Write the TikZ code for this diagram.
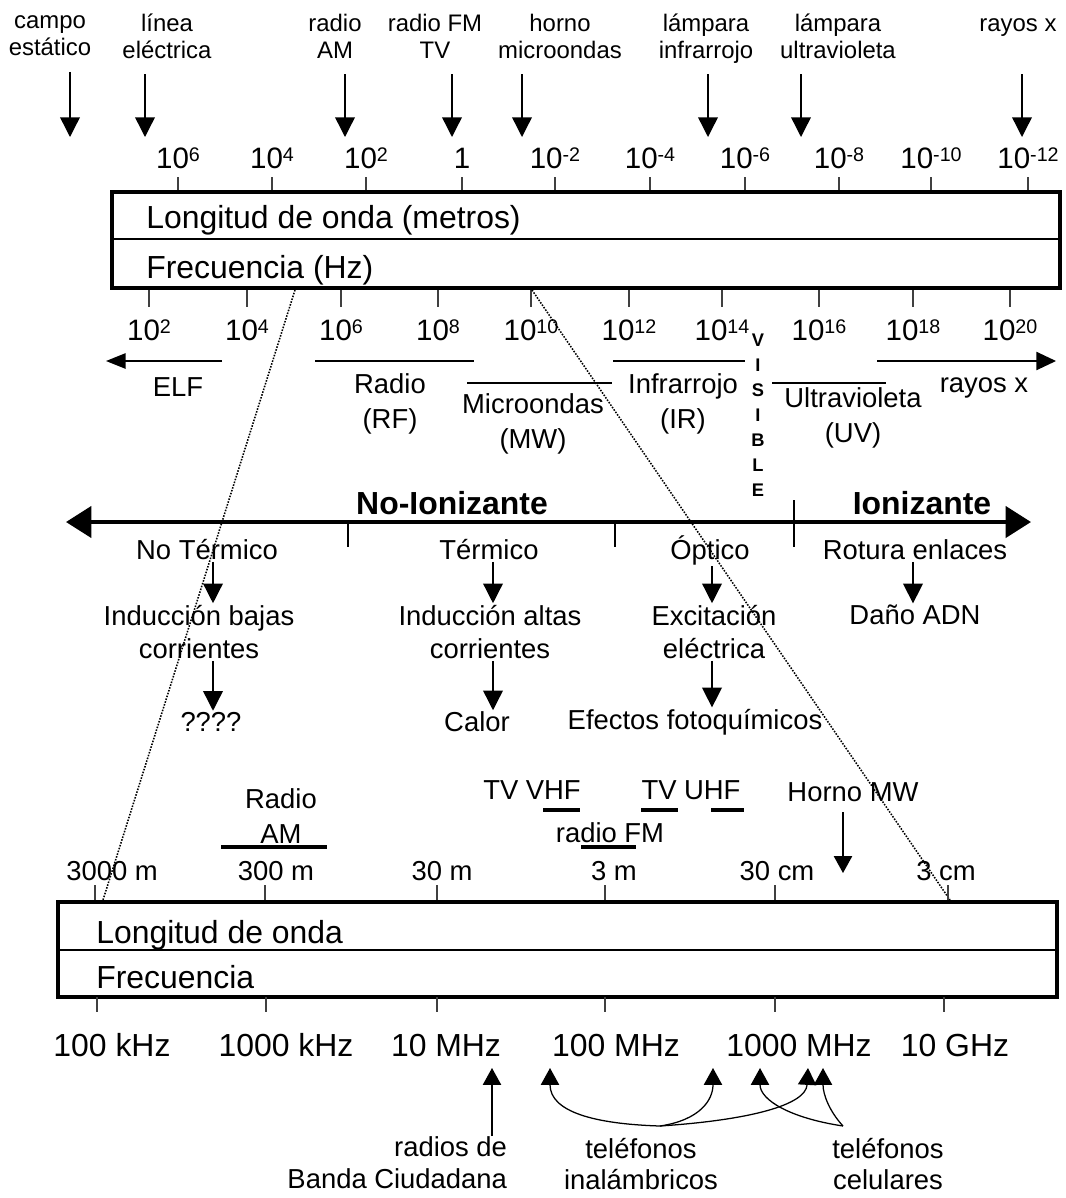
\documentclass[tikz,border=0pt]{standalone}
\usepackage{fontspec}
\setmainfont{Liberation Sans}
\usepackage{tikz}
\usetikzlibrary{arrows.meta}

\newcommand{\pot}[1]{10\raisebox{0.23em}{\fontsize{14}{14}\selectfont#1}}

\begin{document}
\begin{tikzpicture}[x=0.025cm,y=-0.025cm,
  chico/.style={font=\fontsize{17}{19.3}\selectfont,align=center,
    execute at begin node=\strut,execute at end node=\strut},
  medio/.style={font=\fontsize{19.5}{24.5}\selectfont,align=center},
  efecto/.style={font=\fontsize{19.5}{24}\selectfont,align=center,inner sep=1pt},
  grande/.style={font=\fontsize{22.7}{27}\selectfont,inner sep=0pt},
  escala/.style={font=\fontsize{21}{25}\selectfont,anchor=base},
  visible/.style={font=\fontsize{13}{15}\selectfont\bfseries,inner sep=0pt},
  marca/.style={line width=0.9pt,black!75},
  caja/.style={line width=2.2pt},
  banda/.style={line width=1pt},
  barra/.style={line width=3.5pt},
  guia/.style={densely dotted,line width=1.1pt},
  flecha/.style={line width=1pt,-{Triangle[width=14pt,length=14pt]}},
  flechita/.style={line width=0.9pt,-{Triangle[width=13pt,length=12pt]}},
  eje/.style={line width=3pt,{Triangle[width=22pt,length=18pt]}-{Triangle[width=22pt,length=18pt]}}]
\useasboundingbox (0,0) rectangle (1066,1198);

% fuentes arriba
\node[chico] (campo) at (50,40) {campo\\estático};
\node[chico] (linea) at (167,40) {línea\\eléctrica};
\node[chico] (radioam) at (335,40) {radio\\AM};
\node[chico] (radiofm) at (435,40) {radio FM\\TV};
\node[chico] (horno) at (560,40) {horno\\microondas};
\node[chico] (lampir) at (706,40) {lámpara\\infrarrojo};
\node[chico] (lampuv) at (838,40) {lámpara\\ultravioleta};
\node[chico] (rayosx) at (1018,26) {rayos x};
\foreach \n/\x in {campo/70,linea/145,radioam/345,radiofm/452,horno/522,lampir/708,lampuv/801}{
  \coordinate (p\n) at (\x,137);
  \draw[flecha,shorten <=2pt] (\n.south -| p\n) -- (p\n);
}
\coordinate (prayosx) at (1022,137);
\draw[flecha,shorten <=21pt] (rayosx.south -| prayosx) -- (prayosx);

% escala de arriba
\foreach \x/\t in {178/\pot{6},272/\pot{4},366/\pot{2},462/1,555/\pot{-2},650/\pot{-4},745/\pot{-6},839/\pot{-8},931/\pot{-10},1028/\pot{-12}}{
  \draw[marca] (\x,177) -- (\x,192);
  \node[escala] (lam\x) at (\x,168) {\t};
}
\draw[caja] (112,192) rectangle (1060,288);
\draw[marca,black] (112,239) -- (1060,239);
\node[grande,anchor=base west] (longitud) at (146,228) {Longitud de onda (metros)};
\node[grande,anchor=base west] (frecuencia) at (146,278) {Frecuencia (Hz)};
\foreach \x/\t in {149/2,247/4,341/6,438/8,531/10,629/12,722/14,819/16,913/18,1010/20}{
  \draw[marca] (\x,290) -- (\x,307);
  \node[escala] (fr\x) at (\x,340) {\pot{\t}};
}

% bandas
\draw[banda,-{Triangle[width=11pt,length=14pt]}] (222,361) -- (106,361);
\node[medio] (elf) at (178,387) {ELF};
\draw[banda] (315,361) -- (474,361);
\node[medio] (radio) at (390,404) {Radio\\(RF)};
\draw[banda] (467,383) -- (612,383);
\node[medio] (micro) at (533,424) {Microondas\\(MW)};
\draw[banda] (613,361) -- (745,361);
\node[medio] (ir) at (683,404) {Infrarrojo\\(IR)};
\foreach \l [count=\i from 0] in {V,I,S,I,B,L,E}
  \node[visible] (vis\i) at (758,340+25*\i) {\l};
\draw[banda] (772,383) -- (886,383);
\node[medio] (uv) at (853,418) {Ultravioleta\\(UV)};
\draw[banda,-{Triangle[width=13pt,length=14pt]}] (877,361) -- (1056,361);
\node[medio] (rx) at (984,388) {rayos x};

% lineas punteadas del zoom
\draw[guia] (295,290) -- (103,900);
\draw[guia] (532,290) -- (950,900);

% ionizante / no ionizante
\draw[eje] (66,522) -- (1031,522);
\draw[line width=2pt] (348,522) -- (348,547);
\draw[line width=2pt] (615,522) -- (615,547);
\draw[line width=2pt] (794,500) -- (794,547);
\node[grande,font=\fontsize{22.7}{27}\selectfont\bfseries] (noion) at (452,503) {No-Ionizante};
\node[grande,font=\fontsize{22.7}{27}\selectfont\bfseries] (ion) at (922,503) {Ionizante};

\node[efecto] (notermico) at (207,550) {No Térmico};
\node[efecto] (termico) at (489,550) {Térmico};
\node[efecto] (optico) at (710,550) {Óptico};
\node[efecto] (rotura) at (915,550) {Rotura enlaces};
\node[efecto] (indbajas) at (199,632) {Inducción bajas\\corrientes};
\node[efecto] (indaltas) at (490,632) {Inducción altas\\corrientes};
\node[efecto] (excita) at (714,632) {Excitación\\eléctrica};
\node[efecto] (adn) at (915,615) {Daño ADN};
\node[efecto] (nose) at (211,722) {????};
\node[efecto] (calor) at (477,722) {Calor};
\node[efecto] (fotoq) at (695,722) {Efectos fotoquímicos};
\draw[flecha] (notermico.south -| 213,0) -- (indbajas.north -| 213,0);
\draw[flecha] (termico.south -| 493,0) -- (indaltas.north -| 493,0);
\draw[flecha] (optico.south -| 712,0) -- (excita.north -| 712,0);
\draw[flecha] (rotura.south -| 913,0) -- (adn.north -| 913,0);
\draw[flecha] (indbajas.south -| 213,0) -- (nose.north -| 213,0);
\draw[flecha] (indaltas.south -| 493,0) -- (calor.north -| 493,0);
\draw[flecha] (excita.south -| 712,0) -- (fotoq.north -| 712,0);

% servicios sobre la escala de abajo
\node[medio] (radioamb) at (281,816) {Radio\\AM};
\draw[barra] (221,847) -- (327,847);
\node[medio] (vhf) at (532,790) {TV VHF};
\node[medio] (uhf) at (691,790) {TV UHF};
\node[medio] (fm) at (610,833) {radio FM};
\draw[barra] (543,810) -- (580,810);
\draw[barra] (641,810) -- (678,810);
\draw[barra] (711,810) -- (744,810);
\draw[barra] (581,847) -- (636,847);
\node[medio] (hornomw) at (853,792) {Horno MW};
\coordinate (tmw) at (843,873);
\draw[flechita,shorten <=4pt] (hornomw.south -| tmw) -- (tmw);

% escala de abajo
\foreach \x/\l/\t in {95/112/3000 m,265/276/300 m,437/442/30 m,605/614/3 m,775/777/30 cm,948/946/3 cm}{
  \draw[marca] (\x,885) -- (\x,902);
  \node[medio] (m\x) at (\l,871) {\t};
}
\draw[caja] (58,902) rectangle (1057,997);
\draw[marca,black] (58,950) -- (1057,950);
\node[grande,anchor=base west] (longitud2) at (96,943) {Longitud de onda};
\node[grande,anchor=base west] (frecuencia2) at (96,988) {Frecuencia};
\foreach \x/\l/\t in {97/112/100 kHz,266/286/1000 kHz,437/446/10 MHz,605/616/100 MHz,775/799/1000 MHz,944/955/10 GHz}{
  \draw[marca] (\x,997) -- (\x,1012);
  \node[grande] (h\x) at (\l,1045) {\t};
}

% usos
\node[medio,font=\fontsize{19.5}{22.5}\selectfont,align=right,anchor=north east] (banda) at (512,1132) {radios de\\Banda Ciudadana};
\node[medio,font=\fontsize{19.5}{22.5}\selectfont] (inal) at (641,1164) {teléfonos\\inalámbricos};
\node[medio,font=\fontsize{19.5}{22.5}\selectfont] (cel) at (888,1164) {teléfonos\\celulares};
\coordinate (tcb) at (492,1068);
\draw[flechita,shorten <=-3pt] (banda.north -| tcb) -- (tcb);
\coordinate (jinal) at (660,1126);
\coordinate (jcel) at (843,1126);
\coordinate (t1) at (550,1068);
\coordinate (t2) at (713,1068);
\coordinate (t3) at (808,1068);
\coordinate (t4) at (760,1068);
\coordinate (t5) at (823,1068);
\draw[flechita] (jinal) .. controls (595,1124) and (550,1112) .. (t1);
\draw[flechita] (jinal) .. controls (700,1120) and (713,1100) .. (t2);
\draw[flechita] (jinal) .. controls (750,1120) and (806,1105) .. (t3);
\draw[flechita] (jcel) .. controls (790,1118) and (760,1100) .. (t4);
\draw[flechita] (jcel) .. controls (830,1112) and (823,1095) .. (t5);
\end{tikzpicture}
\end{document}
